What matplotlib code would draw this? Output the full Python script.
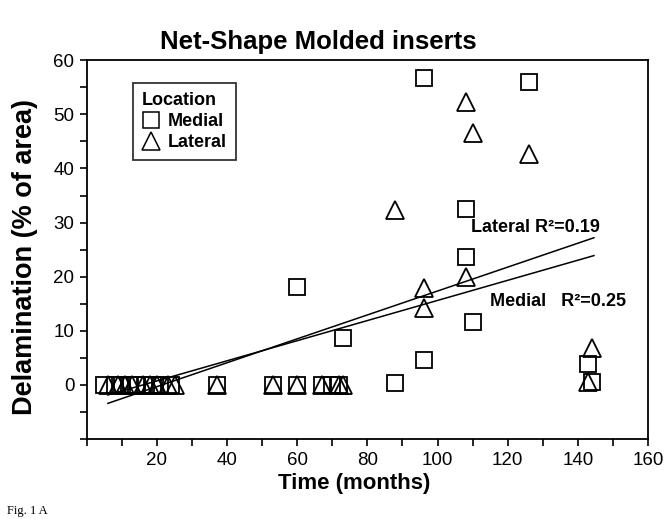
import matplotlib
matplotlib.use("Agg")
import matplotlib.pyplot as plt
from matplotlib.lines import Line2D
from matplotlib.ticker import MultipleLocator, FixedLocator, FixedFormatter

# medial (squares)
medial_x = [5, 8, 10, 12, 14, 17, 19, 21, 24, 37, 53, 60, 67, 70, 72,
            88, 60, 73, 96, 96, 108, 108, 126, 110, 143, 144]
medial_y = [0, 0, 0, 0, 0, 0, 0, 0, 0, 0, 0, 0, 0, 0, 0,
            0.3, 18.1, 8.7, 4.6, 56.7, 32.6, 23.7, 55.9, 11.7, 3.9, 0.5]

# lateral (triangles)
lateral_x = [6, 9, 11, 13, 16, 18, 20, 23, 25, 37, 53, 60, 67, 72, 73,
             88, 96, 96, 108, 108, 110, 126, 144, 143]
lateral_y = [0, 0, 0, 0, 0, 0, 0, 0, 0, 0, 0, 0, 0, 0, 0,
             32.4, 18.0, 14.2, 20.0, 52.2, 46.5, 42.6, 6.8, 0.5]

# regression lines, end points
trend_x = [6, 144.6]
lateral_trend = [-3.4, 27.2]
medial_trend = [-1.85, 23.9]

x_labels = [20, 40, 60, 80, 100, 120, 140, 160]
y_labels = [0, 10, 20, 30, 40, 50, 60]

plt.rcParams["font.family"] = ["Liberation Sans", "DejaVu Sans"]

fig = plt.figure(figsize=(6.68, 5.19), dpi=100)
ax = fig.add_axes([0.130, 0.154, 0.840, 0.730])

ax.plot(trend_x, lateral_trend, color="black", lw=1.1)
ax.plot(trend_x, medial_trend, color="black", lw=1.1)

ax.plot(medial_x, medial_y, ls="none", marker="s", ms=11, mfc="none",
        mec="black", mew=1.3)
ax.plot(lateral_x, lateral_y, ls="none", marker="^", ms=13, mfc="none",
        mec="black", mew=1.3)

ax.set_xlim(0, 160)
ax.set_ylim(-10, 60)
ax.xaxis.set_major_locator(FixedLocator(x_labels))
ax.xaxis.set_major_formatter(FixedFormatter([str(v) for v in x_labels]))
ax.xaxis.set_minor_locator(MultipleLocator(10))
ax.yaxis.set_major_locator(FixedLocator(y_labels))
ax.yaxis.set_major_formatter(FixedFormatter([str(v) for v in y_labels]))
ax.yaxis.set_minor_locator(MultipleLocator(5))
ax.tick_params(which="both", direction="out", length=5, width=1.2,
               labelsize=13.5, pad=4)
for s in ax.spines.values():
    s.set_linewidth(1.3)

ax.text(109.4, 29, "Lateral R²=0.19", fontsize=13, fontweight="bold",
        va="center", ha="left")
ax.text(115, 15.4, "Medial   R²=0.25", fontsize=13, fontweight="bold",
        va="center", ha="left")

handles = [
    Line2D([], [], ls="none", marker="s", ms=12, mfc="none", mec="black",
           mew=1.1, label="Medial"),
    Line2D([], [], ls="none", marker="^", ms=13, mfc="none", mec="black",
           mew=1.1, label="Lateral"),
]
leg = ax.legend(handles=handles, title="Location", loc="upper left",
                bbox_to_anchor=(0.082, 0.939), borderaxespad=0,
                frameon=True, fancybox=False,
                edgecolor="black", handletextpad=0.45, handlelength=1.0,
                borderpad=0.5, labelspacing=0.22,
                prop={"size": 13, "weight": "bold"},
                title_fontproperties={"size": 13, "weight": "bold"})
leg._legend_box.align = "left"
leg.get_frame().set_linewidth(1.3)

fig.text(0.476, 0.919, "Net-Shape Molded inserts", fontsize=18.5,
         fontweight="bold", ha="center", va="center")
fig.text(0.530, 0.069, "Time (months)", fontsize=16, fontweight="bold",
         ha="center", va="center")
fig.text(0.038, 0.505, "Delamination (% of area)", fontsize=19.5,
         fontweight="bold", ha="center", va="center", rotation=90)
fig.text(0.01, 0.003, "Fig. 1 A", fontsize=9, family="Liberation Serif",
         ha="left", va="bottom")

fig.savefig("out.png", dpi=100)
